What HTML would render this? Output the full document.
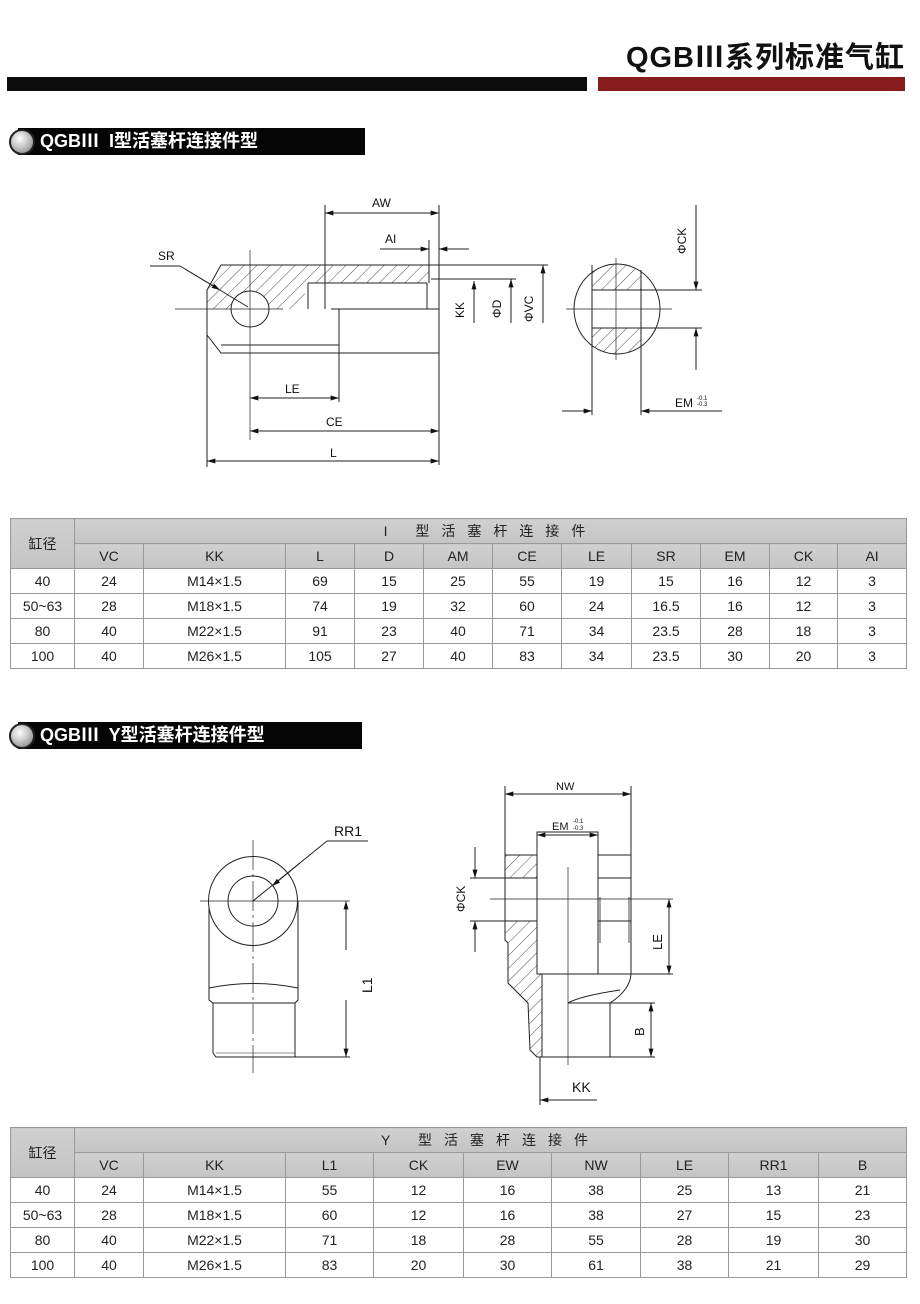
<!DOCTYPE html>
<html><head><meta charset="utf-8">
<style>
html,body{margin:0;padding:0;background:#fff;}
body{width:920px;height:1304px;position:relative;overflow:hidden;font-family:"Liberation Sans","Noto Sans CJK SC",sans-serif;}
.abs{position:absolute;}
.title{right:15px;top:34px;font-size:29px;font-weight:bold;color:#111;letter-spacing:1px;}
.bar{background:#0c0c0c;}
.sec{height:27px;background:#050505;color:#fff;font-size:18px;font-weight:bold;line-height:27px;padding-left:22px;box-sizing:border-box;}
.ball{width:26px;height:26px;border-radius:50%;background:radial-gradient(circle at 40% 35%,#fff 0%,#ccc 40%,#777 100%);border:2px solid #222;box-sizing:border-box;}
table{border-collapse:collapse;position:absolute;table-layout:fixed;font-size:14px;color:#222;}
td{border:1px solid #999;text-align:center;padding:0;height:24px;}
.h{background:linear-gradient(#d0d0d0,#c4c4c4);}
</style></head><body>
<div class="abs title">QGBⅢ系列标准气缸</div>
<div class="abs bar" style="left:7px;top:77px;width:580px;height:14px;"></div>
<div class="abs" style="left:598px;top:77px;width:307px;height:14px;background:#861c1c;"></div>

<div class="abs sec" style="left:18px;top:128px;width:347px;">QGBⅢ&nbsp; I型活塞杆连接件型</div>
<div class="abs ball" style="left:9px;top:129px;"></div>
<div class="abs sec" style="left:18px;top:722px;width:344px;">QGBⅢ&nbsp; Y型活塞杆连接件型</div>
<div class="abs ball" style="left:9px;top:723px;"></div>

<svg class="abs" style="left:0;top:0" width="920" height="1304" viewBox="0 0 920 1304" font-family="Liberation Sans, sans-serif" font-size="11" fill="none" stroke="#222" stroke-width="1">
<defs>
<pattern id="hh" patternUnits="userSpaceOnUse" width="9" height="9" patternTransform="rotate(45)">
<line x1="0" y1="0" x2="0" y2="9" stroke="#222" stroke-width="0.8"/></pattern>
<marker id="a" viewBox="0 0 10 6" refX="10" refY="3" markerWidth="12" markerHeight="5" orient="auto-start-reverse" markerUnits="userSpaceOnUse"><path d="M0,0L10,3L0,6z" fill="#111" stroke="none"/></marker>
</defs>
<!-- Drawing 1 -->
<path d="M221,265 L429,265 L429,283 L308,283 L300,309 L221,309 L207,309 L207,290 Z" fill="url(#hh)" stroke="none"/>
<path d="M221,265 L439,265 L439,353 L221,353 L207,335 L207,290 Z"/>
<line x1="308" y1="283" x2="427" y2="283"/><line x1="308" y1="283" x2="308" y2="309"/>
<line x1="427" y1="283" x2="427" y2="309"/>
<line x1="331" y1="309" x2="439" y2="309"/>
<line x1="339" y1="309" x2="339" y2="353"/>
<line x1="221" y1="345" x2="339" y2="345"/>
<ellipse cx="250" cy="309" rx="19" ry="18" fill="#fff"/>
<line x1="175" y1="309" x2="283" y2="309" stroke-width="0.7"/>
<line x1="250" y1="250" x2="250" y2="440" stroke-width="0.7"/>
<line x1="150" y1="266" x2="180" y2="266"/><line x1="180" y1="266" x2="248" y2="307"/>
<line x1="185" y1="269" x2="220" y2="290" marker-end="url(#a)"/>
<text x="158" y="260" fill="#111" stroke="none" font-size="12">SR</text>
<line x1="439" y1="265" x2="548" y2="265"/><line x1="431" y1="279" x2="516" y2="279"/>
<line x1="325" y1="205" x2="325" y2="309"/><line x1="439" y1="205" x2="439" y2="465"/>
<line x1="325" y1="213" x2="439" y2="213" marker-start="url(#a)" marker-end="url(#a)"/>
<text x="372" y="207" fill="#111" stroke="none" font-size="12">AW</text>
<line x1="429" y1="240" x2="429" y2="283"/>
<line x1="380" y1="249" x2="429" y2="249" marker-end="url(#a)"/><line x1="469" y1="249" x2="439" y2="249" marker-end="url(#a)"/>
<text x="385" y="243" fill="#111" stroke="none" font-size="12">AI</text>
<line x1="474" y1="323" x2="474" y2="281" marker-end="url(#a)"/>
<line x1="511" y1="323" x2="511" y2="279" marker-end="url(#a)"/>
<line x1="543" y1="323" x2="543" y2="265" marker-end="url(#a)"/>
<text transform="translate(464,318) rotate(-90)" fill="#111" stroke="none" font-size="12">KK</text>
<text transform="translate(501,318) rotate(-90)" fill="#111" stroke="none" font-size="12">ΦD</text>
<text transform="translate(533,322) rotate(-90)" fill="#111" stroke="none" font-size="12">ΦVC</text>
<line x1="207" y1="330" x2="207" y2="467"/><line x1="339" y1="353" x2="339" y2="402"/>
<line x1="250" y1="398" x2="339" y2="398" marker-start="url(#a)" marker-end="url(#a)"/>
<text x="285" y="393" fill="#111" stroke="none" font-size="12">LE</text>
<line x1="250" y1="431" x2="439" y2="431" marker-start="url(#a)" marker-end="url(#a)"/>
<text x="326" y="426" fill="#111" stroke="none" font-size="12">CE</text>
<line x1="207" y1="461" x2="439" y2="461" marker-start="url(#a)" marker-end="url(#a)"/>
<text x="330" y="457" fill="#111" stroke="none" font-size="12">L</text>
<!-- side view -->
<clipPath id="ce"><ellipse cx="617" cy="309" rx="43" ry="45"/></clipPath>
<g clip-path="url(#ce)"><rect x="592" y="260" width="49" height="30" fill="url(#hh)" stroke="none"/><rect x="592" y="328" width="49" height="30" fill="url(#hh)" stroke="none"/></g>
<ellipse cx="617" cy="309" rx="43" ry="45"/>
<line x1="592" y1="290" x2="702" y2="290"/><line x1="592" y1="328" x2="702" y2="328"/>
<line x1="592" y1="265" x2="592" y2="415"/><line x1="641" y1="270" x2="641" y2="415"/>
<line x1="616" y1="258" x2="616" y2="360" stroke-width="0.7"/>
<line x1="566" y1="309" x2="672" y2="309" stroke-width="0.7"/>
<line x1="696" y1="205" x2="696" y2="290" marker-end="url(#a)"/><line x1="696" y1="370" x2="696" y2="328" marker-end="url(#a)"/>
<text transform="translate(686,254) rotate(-90)" fill="#111" stroke="none" font-size="12">ΦCK</text>
<line x1="562" y1="411" x2="592" y2="411" marker-end="url(#a)"/><line x1="722" y1="411" x2="641" y2="411" marker-end="url(#a)"/>
<text x="675" y="407" fill="#111" stroke="none" font-size="12">EM</text>
<text x="697" y="400" fill="#111" stroke="none" font-size="6">-0.1</text><text x="697" y="406" fill="#111" stroke="none" font-size="6">-0.3</text>

<!-- Drawing 2 left -->
<path d="M209,901 L209,1000 L213,1003 L295,1003 L298,1000 L298,901"/>
<circle cx="253" cy="901" r="44.5" fill="#fff"/>
<circle cx="253" cy="901" r="25"/>
<path d="M209,988 Q253,979 298,988"/>
<path d="M213,1003 L213,1053 L216,1057 L295,1057 L295,1003"/>
<line x1="216" y1="1053" x2="295" y2="1053" stroke-width="0.6"/>
<line x1="253" y1="840" x2="253" y2="1073" stroke-width="0.7" stroke-dasharray="30,4,3,4"/>
<line x1="200" y1="901" x2="350" y2="901" stroke-width="0.7"/>
<line x1="295" y1="1057" x2="350" y2="1057"/>
<line x1="327" y1="841" x2="368" y2="841"/><line x1="327" y1="841" x2="253" y2="901"/>
<line x1="300" y1="863" x2="272" y2="886" marker-end="url(#a)"/>
<text x="334" y="836" fill="#111" stroke="none" font-size="14">RR1</text>
<line x1="346" y1="950" x2="346" y2="901" marker-end="url(#a)"/><line x1="346" y1="1000" x2="346" y2="1057" marker-end="url(#a)"/>
<text transform="translate(372,993) rotate(-90)" fill="#111" stroke="none" font-size="14">L1</text>

<!-- Drawing 2 right -->
<path d="M505,855 L537,855 L537,878 L505,878 Z" fill="url(#hh)"/>
<path d="M505,921 L537,921 L537,974 L542,974 L542,1057 L537,1057 L530,1050 L528,1003 L508,983 L508,943 L505,940 Z" fill="url(#hh)"/>
<rect x="537" y="832" width="61" height="142"/>
<path d="M598,855 L631,855 L631,974 L598,974"/>
<line x1="598" y1="878" x2="631" y2="878"/><line x1="598" y1="921" x2="631" y2="921"/>
<path d="M600,897 L600,943 M629,897 L629,943" stroke-width="0.8"/>
<line x1="505" y1="878" x2="537" y2="878"/>
<path d="M631,974 Q630,990 610,1003 M568,1003 Q580,996 620,990"/>
<path d="M568,1003 L610,1003 L610,1057 L542,1057"/>
<line x1="505" y1="786" x2="505" y2="921"/><line x1="631" y1="786" x2="631" y2="855"/>
<line x1="505" y1="794" x2="631" y2="794" marker-start="url(#a)" marker-end="url(#a)"/>
<text x="556" y="790" fill="#111" stroke="none" font-size="11">NW</text>
<line x1="537" y1="835" x2="598" y2="835" marker-start="url(#a)" marker-end="url(#a)"/>
<text x="552" y="830" fill="#111" stroke="none" font-size="11">EM</text>
<text x="573" y="823" fill="#111" stroke="none" font-size="6">-0.1</text><text x="573" y="830" fill="#111" stroke="none" font-size="6">-0.3</text>
<line x1="568" y1="867" x2="568" y2="1065" stroke-width="0.7"/>
<line x1="490" y1="899" x2="673" y2="899" stroke-width="0.7"/>
<line x1="470" y1="878" x2="505" y2="878"/><line x1="470" y1="921" x2="505" y2="921"/>
<line x1="475" y1="847" x2="475" y2="878" marker-end="url(#a)"/><line x1="475" y1="952" x2="475" y2="921" marker-end="url(#a)"/>
<text transform="translate(465,912) rotate(-90)" fill="#111" stroke="none" font-size="12">ΦCK</text>
<line x1="598" y1="974" x2="673" y2="974"/>
<line x1="669" y1="936" x2="669" y2="899" marker-end="url(#a)"/><line x1="669" y1="936" x2="669" y2="974" marker-end="url(#a)"/>
<text transform="translate(662,950) rotate(-90)" fill="#111" stroke="none" font-size="13">LE</text>
<line x1="610" y1="1003" x2="655" y2="1003"/><line x1="610" y1="1057" x2="655" y2="1057"/>
<line x1="651" y1="1030" x2="651" y2="1003" marker-end="url(#a)"/><line x1="651" y1="1030" x2="651" y2="1057" marker-end="url(#a)"/>
<text transform="translate(644,1036) rotate(-90)" fill="#111" stroke="none" font-size="13">B</text>
<line x1="540" y1="1057" x2="540" y2="1105"/>
<line x1="597" y1="1100" x2="540" y2="1100" marker-end="url(#a)"/>
<text x="572" y="1092" fill="#111" stroke="none" font-size="14">KK</text>
</svg>

<table style="left:10px;top:518px;width:896px;">
<colgroup><col style="width:64px"><col style="width:69px"><col style="width:142px"><col style="width:69px"><col style="width:69px"><col style="width:69px"><col style="width:69px"><col style="width:70px"><col style="width:69px"><col style="width:69px"><col style="width:68px"><col style="width:69px"></colgroup>
<tr><td class="h" rowspan="2" style="height:49px">缸径</td><td class="h" colspan="11" style="letter-spacing:12px">I 型活塞杆连接件</td></tr>
<tr><td class="h">VC</td><td class="h">KK</td><td class="h">L</td><td class="h">D</td><td class="h">AM</td><td class="h">CE</td><td class="h">LE</td><td class="h">SR</td><td class="h">EM</td><td class="h">CK</td><td class="h">AI</td></tr>
<tr><td>40</td><td>24</td><td>M14×1.5</td><td>69</td><td>15</td><td>25</td><td>55</td><td>19</td><td>15</td><td>16</td><td>12</td><td>3</td></tr>
<tr><td>50~63</td><td>28</td><td>M18×1.5</td><td>74</td><td>19</td><td>32</td><td>60</td><td>24</td><td>16.5</td><td>16</td><td>12</td><td>3</td></tr>
<tr><td>80</td><td>40</td><td>M22×1.5</td><td>91</td><td>23</td><td>40</td><td>71</td><td>34</td><td>23.5</td><td>28</td><td>18</td><td>3</td></tr>
<tr><td>100</td><td>40</td><td>M26×1.5</td><td>105</td><td>27</td><td>40</td><td>83</td><td>34</td><td>23.5</td><td>30</td><td>20</td><td>3</td></tr>
</table>

<table style="left:10px;top:1127px;width:896px;">
<colgroup><col style="width:64px"><col style="width:69px"><col style="width:142px"><col style="width:88px"><col style="width:90px"><col style="width:88px"><col style="width:89px"><col style="width:88px"><col style="width:90px"><col style="width:88px"></colgroup>
<tr><td class="h" rowspan="2" style="height:49px">缸径</td><td class="h" colspan="9" style="letter-spacing:12px">Y 型活塞杆连接件</td></tr>
<tr><td class="h">VC</td><td class="h">KK</td><td class="h">L1</td><td class="h">CK</td><td class="h">EW</td><td class="h">NW</td><td class="h">LE</td><td class="h">RR1</td><td class="h">B</td></tr>
<tr><td>40</td><td>24</td><td>M14×1.5</td><td>55</td><td>12</td><td>16</td><td>38</td><td>25</td><td>13</td><td>21</td></tr>
<tr><td>50~63</td><td>28</td><td>M18×1.5</td><td>60</td><td>12</td><td>16</td><td>38</td><td>27</td><td>15</td><td>23</td></tr>
<tr><td>80</td><td>40</td><td>M22×1.5</td><td>71</td><td>18</td><td>28</td><td>55</td><td>28</td><td>19</td><td>30</td></tr>
<tr><td>100</td><td>40</td><td>M26×1.5</td><td>83</td><td>20</td><td>30</td><td>61</td><td>38</td><td>21</td><td>29</td></tr>
</table>
</body></html>
